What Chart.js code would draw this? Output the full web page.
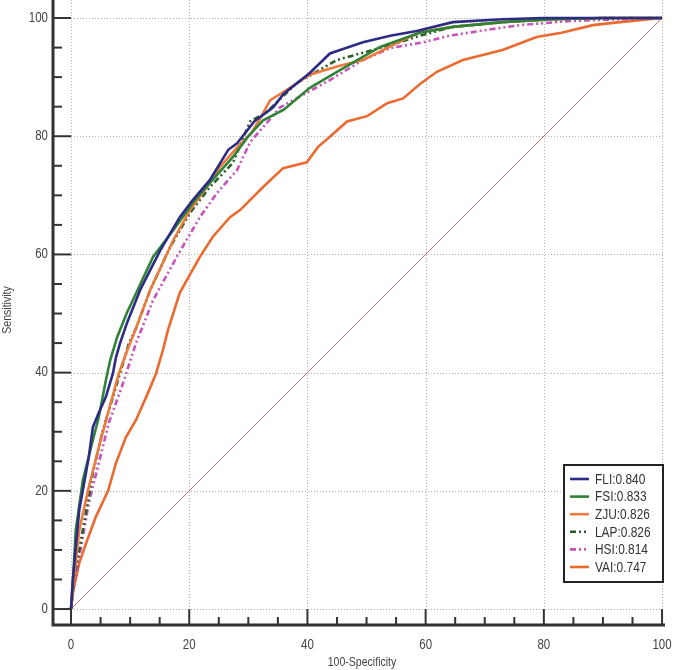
<!DOCTYPE html>
<html>
<head>
<meta charset="utf-8">
<script src="https://cdn.jsdelivr.net/npm/chart.js@4/dist/chart.umd.min.js"></script>
<style>
  body { margin: 0; background: #fff; }
  #wrap { width: 682px; height: 670px; }
</style>
</head>
<body>
<div id="wrap"><canvas id="roc" width="682" height="670"></canvas></div>
<script>
// ROC curves: [100-Specificity, Sensitivity]
const fli = [[0,0],[0.3,4.9],[0.8,10.5],[1.4,16.8],[2,20.1],[3,25.7],[3.7,30.8],[4.7,33.2],[5.9,35.9],[7.1,39.9],[7.6,42.6],[8.3,45],[9.5,48.5],[11.7,54],[15.1,60.7],[18.4,66.3],[20.6,69.2],[23.5,72.6],[26.6,77.7],[28.1,78.8],[31,82.5],[34.2,84.9],[36,87.2],[40.4,90.7],[43.8,94],[49.4,95.9],[54,97],[58.5,97.8],[64.6,99.3],[73,99.8],[80,100],[100,100]];
const fsi = [[0,0],[0.4,6],[0.8,13.4],[2,21.8],[3.7,28.6],[4.7,32.5],[5.9,38.7],[6.6,42],[7.8,46],[9.4,50],[11.5,54.5],[13.9,59.6],[17.3,64.1],[20.6,68.7],[23.5,72.1],[27.4,76.5],[30,80],[32.5,82.7],[36,84.5],[40.4,88.2],[45,90.9],[52.3,95.1],[59,97.5],[64.6,98.5],[73,99.3],[81.6,99.8],[90,100],[100,100]];
const zju = [[0,0],[0.5,5],[1.4,13.4],[3,20.6],[4.7,27.4],[6.4,33.7],[8.1,39.9],[9.6,44],[10.8,47],[13.4,54],[17.3,62.4],[20.1,67.5],[23,71.4],[25.2,74.8],[28,78],[30.5,80.5],[32,83],[33.7,86.1],[36,87.5],[40.4,90.4],[45,91.8],[49.4,92.9],[55.2,95.8],[59,97.6],[64.6,98.5],[73,99.3],[81.6,99.8],[90,100],[100,100]];
const lap = [[0,0],[0.5,5],[2,13.4],[3.7,23],[5.4,30.3],[7.1,35.9],[8.8,41.6],[9.8,45],[11,47.5],[13.4,54],[16.8,61.3],[20.1,67],[23.5,71.4],[27.4,75.5],[30.3,82.5],[33,84],[38.2,89],[45,92.9],[54,95.4],[59,97],[64.6,98.5],[73,99.3],[81.6,99.8],[90,100],[100,100]];
const hsi = [[0,0],[0.5,4],[2,12.2],[3,17.9],[4.7,24.7],[6.4,31.5],[8.8,38.2],[11,45],[13.9,52.3],[17.9,59.6],[21.8,66.3],[24.7,70.4],[28.1,74.3],[30.3,79],[35.4,84.9],[43.8,89.5],[49.4,92.9],[54,94.9],[59.6,95.9],[64,97],[70.4,98],[76,98.8],[84.4,99.5],[93,99.8],[100,100]];
const vai = [[0,0],[0.3,2.7],[1.4,7.8],[2.5,11],[4.2,15.6],[6.3,20.1],[7.6,24.7],[9.3,29.1],[11,32],[13.2,37],[14.4,39.9],[15.6,44],[16.4,47.2],[18.4,53.5],[21.8,59.6],[24,63],[26.9,66.3],[28.6,67.5],[32.5,71.4],[35.9,74.6],[39.9,75.6],[41.8,78.2],[43.8,79.9],[46.7,82.5],[50.1,83.4],[53.5,85.6],[56.2,86.4],[59,88.8],[61.9,90.9],[66.3,92.9],[73,94.6],[78.8,96.8],[83,97.5],[88.3,98.8],[92.9,99.3],[100,100]];
const diagonal = [[0,0],[100,100]];

const labels = ['FLI:0.840', 'FSI:0.833', 'ZJU:0.826', 'LAP:0.826', 'HSI:0.814', 'VAI:0.747'];
const xTicks = [0, 20, 40, 60, 80, 100];
const yTicks = [0, 20, 40, 60, 80, 100];

const DOTDOT = [6, 3, 2, 3, 2, 3];
const FONT = '"Liberation Sans", Arial, sans-serif';

function pts(arr) {
    return arr.map(p => ({ x: p[0], y: p[1] }));
}

function series(label, arr, color, dash) {
    return {
        label: label,
        data: pts(arr),
        borderColor: color,
        borderWidth: 2.6,
        borderDash: dash || [],
        pointRadius: 0,
        showLine: true,
        tension: 0,
        fill: false
    };
}

// squeezed text, the original uses a narrow face
function narrow(ctx, text, x, y, sx) {
    ctx.save();
    ctx.translate(x, y);
    ctx.scale(sx, 1);
    ctx.fillText(text, 0, 0);
    ctx.restore();
}

// grid, axes, ticks and legend drawn against the chart's own scales
const frame = {
    id: 'frame',
    beforeDatasetsDraw(chart) {
        const ctx = chart.ctx;
        const x = chart.scales.x, y = chart.scales.y;
        const area = chart.chartArea;
        ctx.save();
        ctx.strokeStyle = '#b0b0b0';
        ctx.lineWidth = 1;
        ctx.setLineDash([1, 2]);
        xTicks.forEach(v => {
            const px = Math.round(x.getPixelForValue(v)) + 0.5;
            ctx.beginPath();
            ctx.moveTo(px, area.top);
            ctx.lineTo(px, y.getPixelForValue(0));
            ctx.stroke();
        });
        yTicks.forEach(v => {
            const py = Math.round(y.getPixelForValue(v)) + 0.5;
            ctx.beginPath();
            ctx.moveTo(x.getPixelForValue(0), py);
            ctx.lineTo(area.right, py);
            ctx.stroke();
        });
        ctx.restore();
    },
    afterDatasetsDraw(chart) {
        const ctx = chart.ctx;
        const x = chart.scales.x, y = chart.scales.y;
        const area = chart.chartArea;
        ctx.save();
        ctx.strokeStyle = '#333';
        ctx.fillStyle = '#444';
        ctx.setLineDash([]);

        // axis lines
        ctx.lineWidth = 3;
        ctx.beginPath();
        ctx.moveTo(area.left, area.top);
        ctx.lineTo(area.left, area.bottom);
        ctx.lineTo(area.right, area.bottom);
        ctx.stroke();

        // ticks every 5, long at the labelled values
        ctx.lineWidth = 2;
        for (let v = 0; v <= 100; v += 5) {
            const major = v % 20 === 0;
            const px = x.getPixelForValue(v);
            ctx.beginPath();
            ctx.moveTo(px, area.bottom);
            ctx.lineTo(px, major ? y.getPixelForValue(0) : area.bottom - 8);
            ctx.stroke();
            const py = y.getPixelForValue(v);
            ctx.beginPath();
            ctx.moveTo(area.left, py);
            ctx.lineTo(major ? x.getPixelForValue(0) : area.left + 9, py);
            ctx.stroke();
        }

        ctx.font = '14px ' + FONT;
        ctx.textAlign = 'center';
        ctx.textBaseline = 'middle';
        xTicks.forEach(v => narrow(ctx, String(v), x.getPixelForValue(v), area.bottom + 20, 0.82));
        ctx.textAlign = 'right';
        yTicks.forEach(v => narrow(ctx, String(v), area.left - 5, y.getPixelForValue(v), 0.82));

        ctx.font = '12px ' + FONT;
        ctx.textAlign = 'center';
        narrow(ctx, '100-Specificity', (area.left + area.right) / 2 + 3, area.bottom + 38, 0.88);
        ctx.save();
        ctx.translate(8, 310);
        ctx.rotate(-Math.PI / 2);
        narrow(ctx, 'Sensitivity', 0, 0, 0.88);
        ctx.restore();

        // legend box
        const bx = 564, by = 465, bw = 99, bh = 117;
        ctx.fillStyle = '#fff';
        ctx.fillRect(bx, by, bw, bh);
        ctx.strokeStyle = '#222';
        ctx.lineWidth = 2;
        ctx.strokeRect(bx, by, bw, bh);
        ctx.font = '14px ' + FONT;
        ctx.textAlign = 'left';
        const items = chart.data.datasets.filter(d => d.label);
        items.forEach((d, i) => {
            const ly = by + 14 + i * 17.6;
            ctx.strokeStyle = d.borderColor;
            ctx.lineWidth = 2.6;
            ctx.setLineDash(d.borderDash);
            ctx.beginPath();
            ctx.moveTo(bx + 6, ly);
            ctx.lineTo(bx + 25, ly);
            ctx.stroke();
            ctx.setLineDash([]);
            ctx.fillStyle = '#333';
            narrow(ctx, d.label, bx + 31, ly + 1, 0.85);
        });
        ctx.restore();
    }
};

new Chart(document.getElementById('roc'), {
    type: 'scatter',
    data: {
        datasets: [
            series(labels[0], fli, '#2e2b86'),
            series(labels[1], fsi, '#2f8236'),
            series(labels[2], zju, '#ec7a3c'),
            series(labels[3], lap, '#2b5e2b', DOTDOT),
            series(labels[4], hsi, '#c752bd', DOTDOT),
            series(labels[5], vai, '#ea6a30'),
            {
                label: '',
                data: pts(diagonal),
                borderColor: '#d45a5a',
                borderWidth: 0.9,
                pointRadius: 0,
                showLine: true,
                fill: false
            }
        ]
    },
    options: {
        responsive: false,
        animation: false,
        layout: { padding: { left: 53, right: 17, top: 0, bottom: 45 } },
        scales: {
            x: { type: 'linear', min: -3.05, max: 100.5, display: false },
            y: { type: 'linear', min: -2.7, max: 103.05, display: false }
        },
        plugins: {
            legend: { display: false },
            tooltip: { enabled: false }
        }
    },
    plugins: [frame]
});
</script>
</body>
</html>
